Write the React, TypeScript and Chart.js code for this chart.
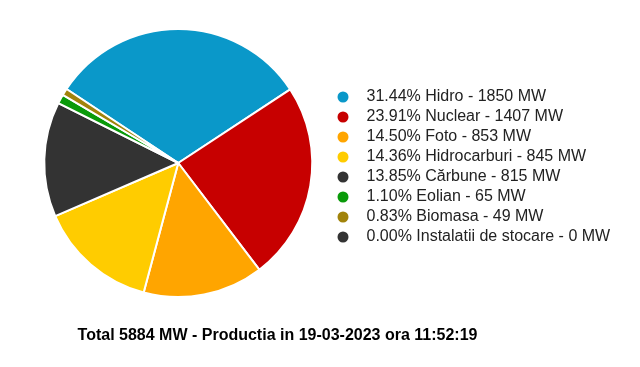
import React, { useEffect, useRef } from "react";
import { Chart, registerables } from "chart.js";

Chart.register(...registerables);

const categories = [
  "Hidro",
  "Nuclear",
  "Foto",
  "Hidrocarburi",
  "Cărbune",
  "Eolian",
  "Biomasa",
  "Instalatii de stocare",
];
const valuesMW = [1850, 1407, 853, 845, 815, 65, 49, 0];
const colors = [
  "#0A98C9",
  "#C70000",
  "#FFA500",
  "#FFCC00",
  "#333333",
  "#0A9A0A",
  "#A1830B",
  "#333333",
];
const productionDate = "19-03-2023";
const productionTime = "11:52:19";

const FONT = "'Liberation Sans', Arial, Helvetica, sans-serif";
const TEXT_COLOR = "#222222";

function makeDot(color: string): HTMLCanvasElement {
  const c = document.createElement("canvas");
  c.width = 12;
  c.height = 12;
  const g = c.getContext("2d")!;
  g.fillStyle = color;
  g.beginPath();
  g.arc(6, 6, 5.5, 0, Math.PI * 2);
  g.fill();
  return c;
}

const bottomTitlePlugin = {
  id: "bottomTitle",
  afterDraw(chart: any, _args: any, opts: any) {
    const ctx = chart.ctx;
    ctx.save();
    ctx.font = `bold 16px ${FONT}`;
    ctx.fillStyle = "#000";
    ctx.textAlign = "center";
    ctx.textBaseline = "middle";
    ctx.fillText(opts.text, opts.x, opts.y);
    ctx.restore();
  },
};

export default function App() {
  const ref = useRef<HTMLCanvasElement>(null);

  useEffect(() => {
    if (!ref.current) return;
    const total = valuesMW.reduce((a, b) => a + b, 0);
    const dots = colors.map(makeDot);
    const chart = new Chart(ref.current, {
      type: "pie",
      data: {
        labels: categories,
        datasets: [
          {
            data: valuesMW,
            backgroundColor: colors,
            borderColor: "#ffffff",
            borderWidth: 2,
          },
        ],
      },
      plugins: [bottomTitlePlugin],
      options: {
        responsive: false,
        animation: false,
        rotation: -56.5,
        layout: { padding: { left: 25, right: 18, top: 20, bottom: 61 } },
        plugins: {
          tooltip: { enabled: false },
          title: { display: false },
          legend: {
            position: "right",
            title: { display: true, text: "", color: TEXT_COLOR, font: { size: 6.667 }, padding: 0 },
            labels: {
              usePointStyle: true,
              pointStyleWidth: 31,
              boxHeight: 11,
              padding: 4,
              color: TEXT_COLOR,
              font: { family: FONT, size: 16 },
              generateLabels: () =>
                categories.map((name, i) => ({
                  text: `${((valuesMW[i] / total) * 100).toFixed(2)}% ${name} - ${valuesMW[i]} MW`,
                  fillStyle: colors[i],
                  strokeStyle: colors[i],
                  fontColor: TEXT_COLOR,
                  lineWidth: 0,
                  pointStyle: dots[i],
                  hidden: false,
                  index: i,
                })),
            },
          },
          bottomTitle: {
            text: `Total ${total} MW - Productia in ${productionDate} ora ${productionTime}`,
            x: 269.5,
            y: 328,
          },
        } as any,
      },
    });
    return () => chart.destroy();
  }, []);

  return <canvas ref={ref} width={624} height={351} style={{ display: "block" }} />;
}
